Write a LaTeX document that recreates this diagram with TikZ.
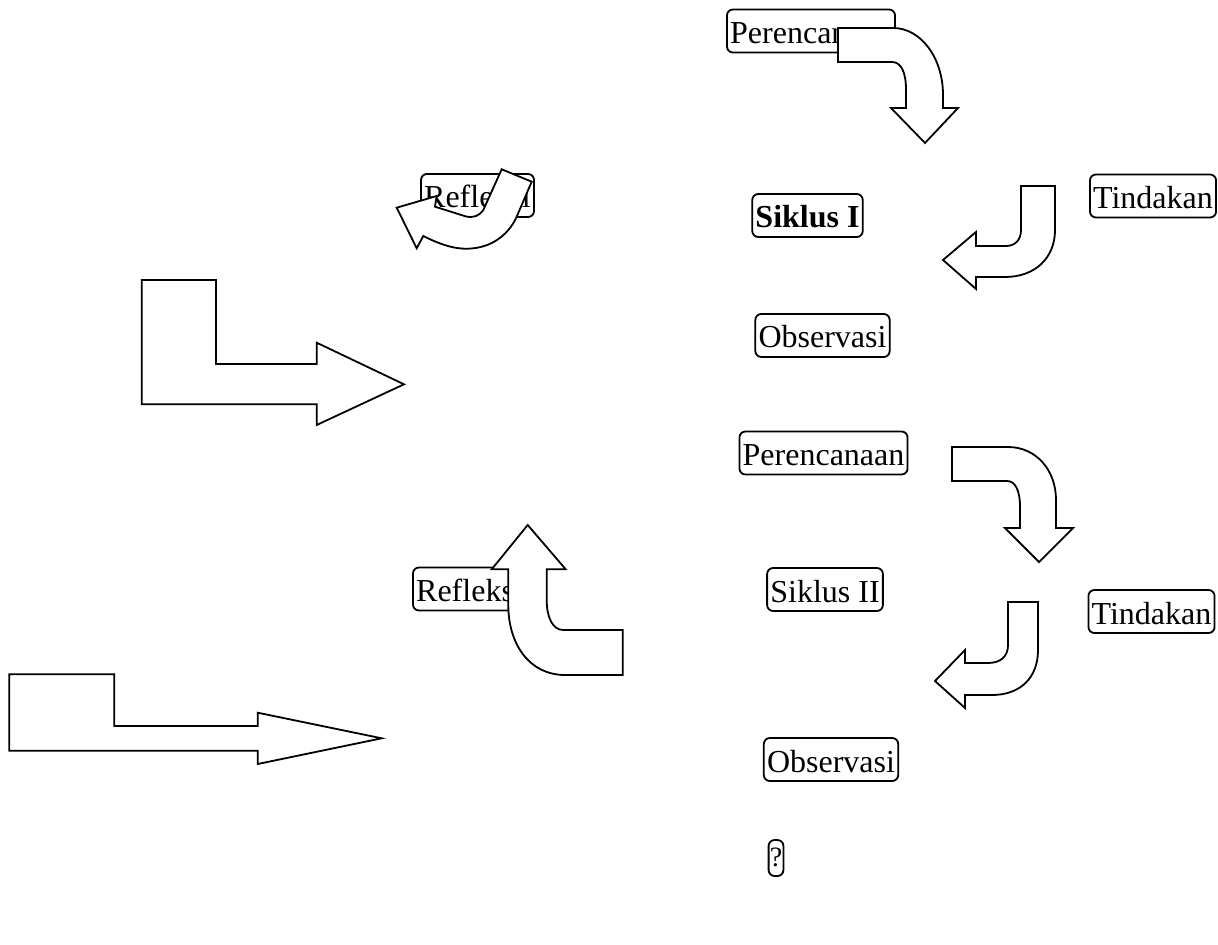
\documentclass[tikz,border=0pt]{standalone}
\usepackage{fontspec}
\setmainfont{Liberation Serif}
\begin{document}
\begin{tikzpicture}[x=0.5pt,y=-0.5pt,
  lbl/.style={draw, line width=0.9pt, rounded corners=3pt, inner xsep=1.6pt, inner ysep=0pt,
    text height=17pt, text depth=4.5pt, font=\fontsize{16}{19}\selectfont},
  arrowshape/.style={draw, fill=white, line width=0.9pt, line join=miter}]
\fill[white] (0,0) rectangle (1218,945);
\useasboundingbox (0,0) rectangle (1218,945);

% labels
\node[lbl] (per1) at (811,31) {Perencanaan};
\node[lbl] (ref1) at (477.5,195.5) {Refleksi};
\node[lbl, font=\fontsize{16}{19}\selectfont\bfseries] (sik1) at (807.5,215.5) {Siklus I};
\node[lbl] (tin1) at (1153,196) {Tindakan};
\node[lbl] (obs1) at (822.5,335.5) {Observasi};
\node[lbl] (per2) at (823.5,453) {Perencanaan};
\node[lbl] (ref2) at (469.5,589) {Refleksi};
\node[lbl] (sik2) at (825,589.5) {Siklus II};
\node[lbl] (tin2) at (1151.5,611.5) {Tindakan};
\node[lbl] (obs2) at (831,759.5) {Observasi};
\node[lbl, text height=13pt, text depth=5pt, inner xsep=0.6pt, font=\fontsize{14}{17}\selectfont] (q) at (776,858) {?};

% big L arrows
\draw[arrowshape] (141.7,280) -- (216,280) -- (216,364) -- (316.7,364) -- (316.7,342.7)
  -- (404,384.3) -- (316.7,425) -- (316.7,404.3) -- (141.7,404.3) -- cycle;
\draw[arrowshape] (9.3,674.3) -- (114.3,674.3) -- (114.3,726) -- (257.7,726) -- (257.7,712.7)
  -- (381.7,738.3) -- (257.7,764) -- (257.7,750.7) -- (9.3,750.7) -- cycle;

% cycle I arrows
\draw[arrowshape] (838,28) -- (893,28) .. controls (921,28) and (943,58) .. (943,95) -- (943,108)
  -- (958,108) -- (925,143) -- (891,108) -- (906,108) -- (906,90)
  .. controls (906,72) and (901,62) .. (892,62) -- (838,62) -- cycle;
\draw[arrowshape] (1021,186) -- (1055,186) -- (1055,230) .. controls (1055,258) and (1035,277) .. (1005,277)
  -- (976,277) -- (976,289) -- (943,260) -- (976,232) -- (976,246) -- (1006,246)
  .. controls (1015,246) and (1021,240) .. (1021,230) -- cycle;
\draw[arrowshape] (501.7,169.3) -- (483.3,210) .. controls (479,216) and (474,218) .. (466,216.5)
  -- (435,206.7) -- (436.7,196) -- (396.7,207.7) -- (416.7,248.3) -- (423.3,236)
  .. controls (445,247) and (460,250) .. (473.3,248.3) .. controls (495,246) and (510,232) .. (516.7,216.7)
  -- (531.7,181.7) -- cycle;

% cycle II arrows
\draw[arrowshape] (952,447) -- (1008,447) .. controls (1036,447) and (1056,470) .. (1056,500) -- (1056,528)
  -- (1073,528) -- (1039,562) -- (1005,528) -- (1020,528) -- (1020,507)
  .. controls (1020,490) and (1015,481) .. (1007,481) -- (952,481) -- cycle;
\draw[arrowshape] (1008,602) -- (1038,602) -- (1038,650) .. controls (1038,678) and (1020,695) .. (992,695)
  -- (965,695) -- (965,708) -- (935,681) -- (965,650) -- (965,663) -- (988,663)
  .. controls (1000,663) and (1008,657) .. (1008,645) -- cycle;
\draw[arrowshape] (622.7,675) -- (565,675) .. controls (530,675) and (508.3,645) .. (508.3,605)
  -- (508.3,569.3) -- (491.7,569.3) -- (527.7,525) -- (565.7,569.3) -- (546.7,569.3) -- (546.7,600)
  .. controls (546.7,618) and (553,630) .. (563.3,630) -- (622.7,630) -- cycle;
\end{tikzpicture}
\end{document}
